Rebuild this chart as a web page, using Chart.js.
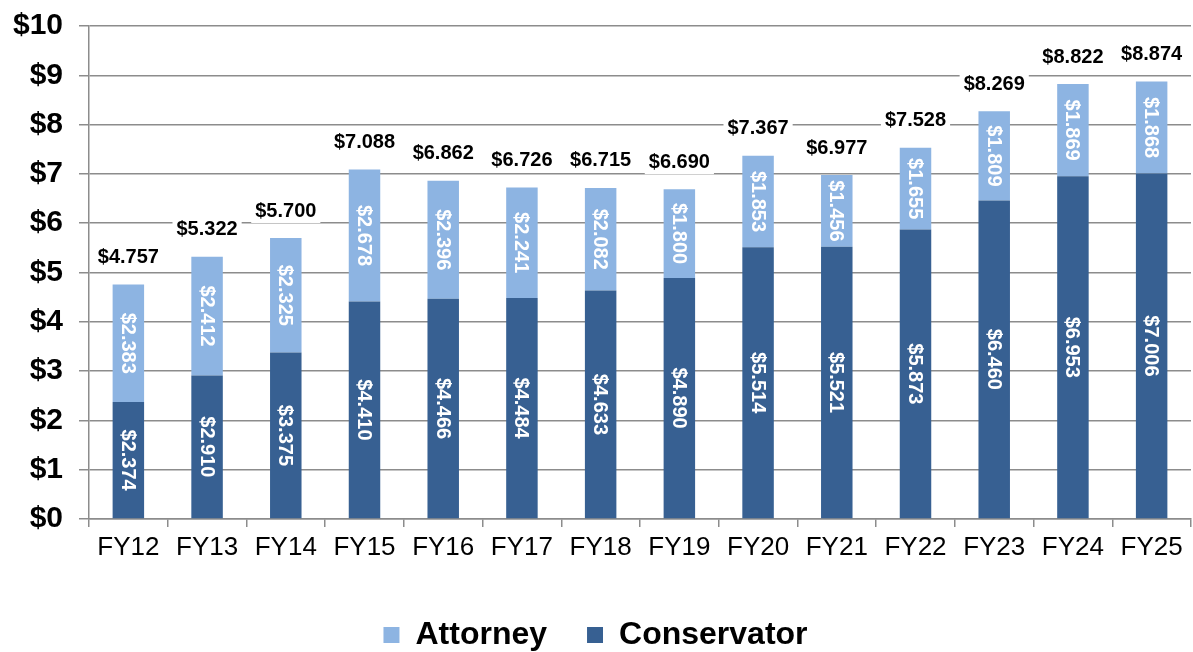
<!DOCTYPE html>
<html>
<head>
<meta charset="utf-8">
<script src="https://cdn.jsdelivr.net/npm/chart.js@4/dist/chart.umd.min.js"></script>
<style>
  html, body { margin: 0; padding: 0; background: #fff; }
  #wrap { width: 1193px; height: 652px; }
</style>
</head>
<body>
<div id="wrap"><canvas id="chart"></canvas></div>
<script>
// fiscal years
const years = ['FY12', 'FY13', 'FY14', 'FY15', 'FY16', 'FY17', 'FY18', 'FY19', 'FY20', 'FY21', 'FY22', 'FY23', 'FY24', 'FY25'];
// conservator (bottom) and attorney (top) amounts, in $
const conservator = [2.374, 2.910, 3.375, 4.410, 4.466, 4.484, 4.633, 4.890, 5.514, 5.521, 5.873, 6.460, 6.953, 7.006];
const attorney = [2.383, 2.412, 2.325, 2.678, 2.396, 2.241, 2.082, 1.800, 1.853, 1.456, 1.655, 1.809, 1.869, 1.868];
const totals = [4.757, 5.322, 5.700, 7.088, 6.862, 6.726, 6.715, 6.690, 7.367, 6.977, 7.528, 8.269, 8.822, 8.874];
const yTicks = [0, 1, 2, 3, 4, 5, 6, 7, 8, 9, 10];

const FONT = '"Liberation Sans", Arial, sans-serif';
const GRID = '#8c8c8c';

// labels inside the bars (rotated) and totals above
const labelPlugin = {
    id: 'barLabels',
    afterDatasetsDraw(chart) {
        const ctx = chart.ctx;
        ctx.save();
        ctx.textAlign = 'center';
        ctx.textBaseline = 'middle';
        ctx.font = 'bold 20px ' + FONT;
        ctx.fillStyle = '#fff';
        chart.data.datasets.forEach((ds, i) => {
            chart.getDatasetMeta(i).data.forEach((bar, j) => {
                const cy = (bar.y + bar.base) / 2;
                ctx.save();
                ctx.translate(bar.x, cy);
                ctx.rotate(Math.PI / 2);
                ctx.fillText('$' + ds.data[j].toFixed(3), 0, 1);
                ctx.restore();
            });
        });
        // totals
        ctx.font = 'bold 20px ' + FONT;
        const top = chart.getDatasetMeta(1).data;
        top.forEach((bar, j) => {
            const txt = '$' + totals[j].toFixed(3);
            const w = ctx.measureText(txt).width;
            const cy = bar.y - 27;
            ctx.fillStyle = '#fff';
            ctx.fillRect(bar.x - w / 2 - 4, cy - 12, w + 8, 24);
            ctx.fillStyle = '#000';
            ctx.fillText(txt, bar.x, cy);
        });
        ctx.restore();
    }
};

// nudge the legend down near the bottom of the page
const legendShift = {
    id: 'legendShift',
    afterLayout(chart) {
        const lg = chart.legend;
        const dy = 661 - lg.bottom;
        lg.top += dy;
        lg.bottom += dy;
    }
};

new Chart(document.getElementById('chart'), {
    type: 'bar',
    data: {
        labels: years,
        datasets: [{
            label: 'Conservator',
            data: conservator,
            backgroundColor: '#376092'
        }, {
            label: 'Attorney',
            data: attorney,
            backgroundColor: '#8db4e2'
        }]
    },
    options: {
        responsive: true,
        maintainAspectRatio: false,
        animation: false,
        datasets: { bar: { barPercentage: 0.4, categoryPercentage: 1 } },
        layout: { padding: { top: 26, right: 2, left: 0, bottom: 0 } },
        plugins: {
            tooltip: { enabled: false },
            legend: {
                position: 'bottom',
                reverse: true,
                labels: {
                    boxWidth: 16,
                    boxHeight: 16,
                    padding: 40,
                    color: '#000',
                    font: { family: FONT, size: 32, weight: 'bold', lineHeight: 1 }
                }
            }
        },
        scales: {
            x: {
                stacked: true,
                grid: { drawOnChartArea: false, drawTicks: true, tickLength: 8, color: GRID, lineWidth: 1.5, offset: true },
                border: { color: GRID, width: 1.5 },
                ticks: { color: '#000', padding: 5, font: { family: FONT, size: 26 } },
                afterFit(scale) { scale.height = 51; }
            },
            y: {
                stacked: true,
                min: 0,
                max: 10,
                afterBuildTicks(scale) { scale.ticks = yTicks.map(v => ({ value: v })); },
                grid: { color: GRID, lineWidth: 1.5, tickLength: 10 },
                border: { color: GRID, width: 1.5 },
                ticks: {
                    color: '#000',
                    padding: 16,
                    font: { family: FONT, size: 30, weight: 'bold' },
                    callback: v => '$' + v
                },
                afterFit(scale) {
                    scale.width = 89;
                    scale.paddingTop = 0;
                    scale.paddingBottom = 0;
                }
            }
        }
    },
    plugins: [labelPlugin, legendShift]
});
</script>
</body>
</html>
